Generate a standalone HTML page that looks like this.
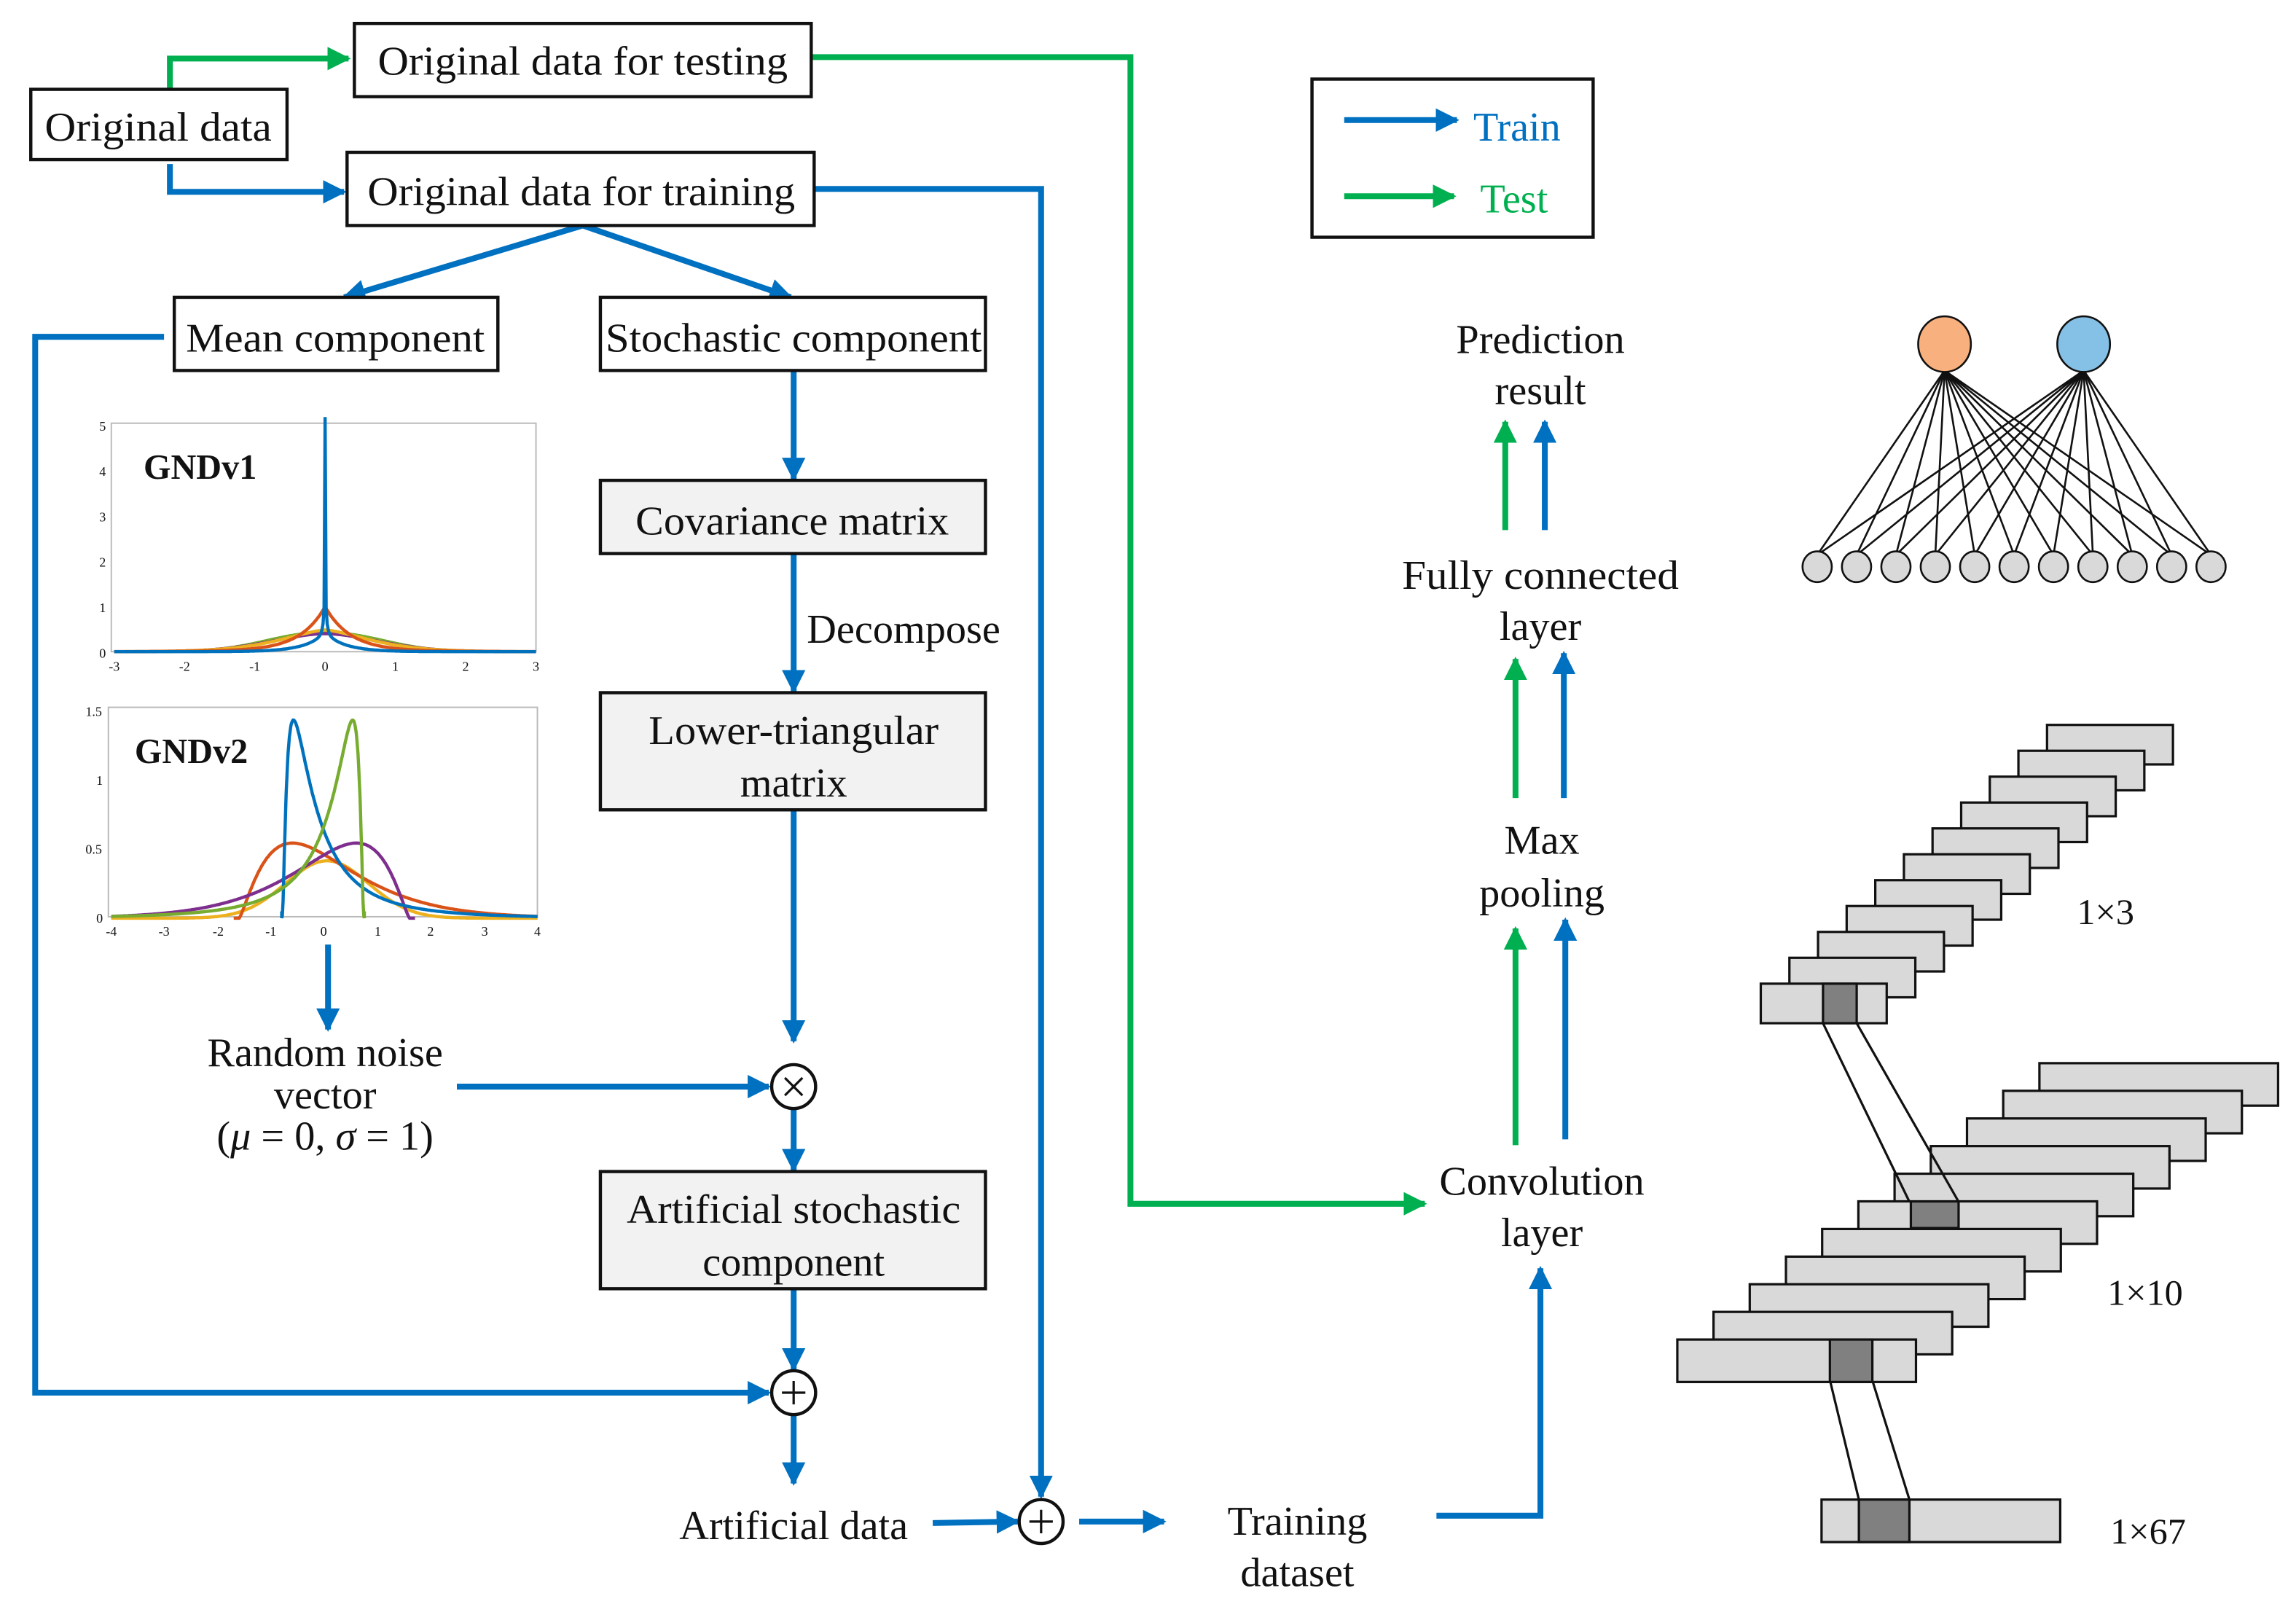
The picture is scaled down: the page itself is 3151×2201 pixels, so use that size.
<!DOCTYPE html>
<html><head><meta charset="utf-8"><style>
html,body{margin:0;padding:0;background:#fff;}
svg{display:block;}
text{font-family:"Liberation Serif",serif;fill:#111;}
</style></head><body>
<svg id="s" width="3151" height="2201" viewBox="0 0 1568 1095.3" xmlns="http://www.w3.org/2000/svg">
<defs>
<marker id="ab" viewBox="0 0 10 10" refX="9" refY="5" markerWidth="4" markerHeight="4" orient="auto" markerUnits="strokeWidth"><path d="M0,0 L10,5 L0,10 z" fill="#0070c0"/></marker>
<marker id="ag" viewBox="0 0 10 10" refX="9" refY="5" markerWidth="4" markerHeight="4" orient="auto" markerUnits="strokeWidth"><path d="M0,0 L10,5 L0,10 z" fill="#00b050"/></marker>
</defs>
<rect width="1568" height="1096" fill="#fff"/>
<g fill="none" stroke-width="4">
<polyline points="116,60 116,40 238,40" stroke="#00b050" marker-end="url(#ag)"/>
<polyline points="554,39 772,39 772,822 973,822" stroke="#00b050" marker-end="url(#ag)"/>
<line x1="918" y1="134" x2="993" y2="134" stroke="#00b050" marker-end="url(#ag)"/>
<line x1="1035" y1="782" x2="1035" y2="634" stroke="#00b050" marker-end="url(#ag)"/>
<line x1="1035" y1="545" x2="1035" y2="450" stroke="#00b050" marker-end="url(#ag)"/>
<line x1="1028" y1="362" x2="1028" y2="288" stroke="#00b050" marker-end="url(#ag)"/>
<polyline points="116,112 116,131 235,131" stroke="#0070c0" marker-end="url(#ab)"/>
<polyline points="556,129 711,129 711,1022" stroke="#0070c0" marker-end="url(#ab)"/>
<line x1="398" y1="154" x2="235" y2="203" stroke="#0070c0" marker-end="url(#ab)"/>
<line x1="398" y1="154" x2="540" y2="203" stroke="#0070c0" marker-end="url(#ab)"/>
<polyline points="112,230 24,230 24,951 525,951" stroke="#0070c0" marker-end="url(#ab)"/>
<line x1="542" y1="253" x2="542" y2="327" stroke="#0070c0" marker-end="url(#ab)"/>
<line x1="542" y1="378" x2="542" y2="472" stroke="#0070c0" marker-end="url(#ab)"/>
<line x1="542" y1="553" x2="542" y2="711" stroke="#0070c0" marker-end="url(#ab)"/>
<line x1="224" y1="645" x2="224" y2="703" stroke="#0070c0" marker-end="url(#ab)"/>
<line x1="312" y1="742" x2="525" y2="742" stroke="#0070c0" marker-end="url(#ab)"/>
<line x1="542" y1="757" x2="542" y2="799" stroke="#0070c0" marker-end="url(#ab)"/>
<line x1="542" y1="880" x2="542" y2="935" stroke="#0070c0" marker-end="url(#ab)"/>
<line x1="542" y1="966" x2="542" y2="1013" stroke="#0070c0" marker-end="url(#ab)"/>
<line x1="637" y1="1040" x2="695" y2="1039" stroke="#0070c0" marker-end="url(#ab)"/>
<line x1="737" y1="1039" x2="795" y2="1039" stroke="#0070c0" marker-end="url(#ab)"/>
<polyline points="981,1035 1052,1035 1052,866" stroke="#0070c0" marker-end="url(#ab)"/>
<line x1="1069" y1="778" x2="1069" y2="628" stroke="#0070c0" marker-end="url(#ab)"/>
<line x1="1068" y1="545" x2="1068" y2="446" stroke="#0070c0" marker-end="url(#ab)"/>
<line x1="1055" y1="362" x2="1055" y2="288" stroke="#0070c0" marker-end="url(#ab)"/>
<line x1="918" y1="82" x2="995" y2="82" stroke="#0070c0" marker-end="url(#ab)"/>
</g>
<g stroke="#111" stroke-width="2.2">
<rect x="21" y="61" width="175" height="48" fill="#fff"/>
<rect x="242" y="16" width="312" height="50" fill="#fff"/>
<rect x="237" y="104" width="319" height="50" fill="#fff"/>
<rect x="119" y="203" width="221" height="50" fill="#fff"/>
<rect x="410" y="203" width="263" height="50" fill="#fff"/>
<rect x="410" y="328" width="263" height="50" fill="#f2f2f2"/>
<rect x="410" y="473" width="263" height="80" fill="#f2f2f2"/>
<rect x="410" y="800" width="263" height="80" fill="#f2f2f2"/>
<rect x="896" y="54" width="192" height="108" fill="none"/>
<circle cx="542" cy="742" r="15" fill="#fff"/>
<circle cx="542" cy="951" r="15" fill="#fff"/>
<circle cx="711" cy="1039" r="15" fill="#fff"/>
</g>
<g stroke="#111" stroke-width="1.6">
<path d="M536,736 L548,748 M548,736 L536,748"/>
<path d="M542,943 V959 M534,951 H550"/>
<path d="M711,1031 V1047 M703,1039 H719"/>
</g>
<g font-size="28" text-anchor="middle">
<text x="108" y="96" textLength="155" lengthAdjust="spacingAndGlyphs">Original data</text>
<text x="398" y="51" textLength="280" lengthAdjust="spacingAndGlyphs">Original data for testing</text>
<text x="397" y="140" textLength="292" lengthAdjust="spacingAndGlyphs">Original data for training</text>
<text x="229" y="240" textLength="204" lengthAdjust="spacingAndGlyphs">Mean component</text>
<text x="542" y="240" textLength="257" lengthAdjust="spacingAndGlyphs">Stochastic component</text>
<text x="541" y="365" textLength="214" lengthAdjust="spacingAndGlyphs">Covariance matrix</text>
<text x="542" y="508" textLength="198" lengthAdjust="spacingAndGlyphs">Lower-triangular</text>
<text x="542" y="544">matrix</text>
<text x="542" y="835" textLength="228" lengthAdjust="spacingAndGlyphs">Artificial stochastic</text>
<text x="542" y="871">component</text>
<text x="222" y="728">Random noise</text>
<text x="222" y="757">vector</text>
<text x="222" y="785">(<tspan font-style="italic">μ</tspan> = 0, <tspan font-style="italic">σ</tspan> = 1)</text>
<text x="542" y="1051">Artificial data</text>
<text x="886" y="1048">Training</text>
<text x="886" y="1083">dataset</text>
<text x="1053" y="816">Convolution</text>
<text x="1053" y="851">layer</text>
<text x="1053" y="583">Max</text>
<text x="1053" y="619">pooling</text>
<text x="1052" y="402" textLength="189" lengthAdjust="spacingAndGlyphs">Fully connected</text>
<text x="1052" y="437">layer</text>
<text x="1052" y="241">Prediction</text>
<text x="1052" y="276">result</text>
<text x="1036" y="96" style="fill:#0070c0">Train</text>
<text x="1034" y="145" style="fill:#00b050">Test</text>
<text x="1438" y="631" font-size="25">1×3</text>
<text x="1465" y="891" font-size="25">1×10</text>
<text x="1467" y="1054" font-size="25">1×67</text>
</g>
<text x="551" y="439" font-size="28">Decompose</text>
<g stroke="#bbb" stroke-width="1" fill="none">
<rect x="76" y="289" width="290" height="156"/>
<rect x="74" y="483" width="293" height="143"/>
</g>
<g font-size="9" fill="#333" text-anchor="middle">
<text x="70" y="294">5</text><text x="70" y="325">4</text><text x="70" y="356">3</text><text x="70" y="387">2</text><text x="70" y="418">1</text><text x="70" y="449">0</text>
<text x="78" y="458">-3</text><text x="126" y="458">-2</text><text x="174" y="458">-1</text><text x="222" y="458">0</text><text x="270" y="458">1</text><text x="318" y="458">2</text><text x="366" y="458">3</text>
<text x="64" y="489">1.5</text><text x="68" y="536">1</text><text x="64" y="583">0.5</text><text x="68" y="630">0</text>
<text x="76" y="639">-4</text><text x="112" y="639">-3</text><text x="149" y="639">-2</text><text x="185" y="639">-1</text><text x="221" y="639">0</text><text x="258" y="639">1</text><text x="294" y="639">2</text><text x="331" y="639">3</text><text x="367" y="639">4</text>
</g>
<text x="98" y="327" font-size="24" font-weight="bold">GNDv1</text>
<text x="92" y="521" font-size="24" font-weight="bold">GNDv2</text>
<g id="curves" fill="none" stroke-width="2.2"></g>
<g id="nn" stroke="#111" stroke-width="1.3"></g>
<g id="conv" stroke="#111" stroke-width="1.6"></g>
</svg>
<script>
var NS="http://www.w3.org/2000/svg";
function el(p,t,a){var e=document.createElementNS(NS,t);for(var k in a)e.setAttribute(k,a[k]);p.appendChild(e);return e;}
var cg=document.getElementById('curves');
function plot(f,x0,x1,X,Y,col){var d="";for(var i=0;i<=400;i++){var v=x0+(x1-x0)*i/400;var p=f(v);d+=(i?"L":"M")+X(v).toFixed(1)+","+Y(p).toFixed(1);}el(cg,'path',{d:d,stroke:col});}
var X1=function(v){return 222+48*v},Y1=function(p){return 445-30.8*p};
plot(function(v){return 0.42*Math.exp(-Math.pow(Math.abs(v)/1.1,2.2))},-3,3,X1,Y1,'#77ac30');
plot(function(v){return 0.4*Math.exp(-Math.pow(Math.abs(v)/1.05,1.8))},-3,3,X1,Y1,'#7e2f8e');
plot(function(v){return 0.48*Math.exp(-Math.pow(Math.abs(v)/0.9,1.5))},-3,3,X1,Y1,'#edb120');
plot(function(v){return 0.95*Math.exp(-Math.abs(v)/0.35)+0.05*Math.exp(-Math.abs(v))},-3,3,X1,Y1,'#d95319');
plot(function(v){return 4.8*Math.exp(-Math.sqrt(Math.abs(v)/0.0035))+0.4*Math.exp(-Math.abs(v)/0.3)},-3,3,X1,Y1,'#0072bd');
var X2=function(v){return 221.5+36.4*v},Y2=function(p){return 627-93.3*p};
function ln(t,a,s){if(t<=0)return 0;var l=Math.log(t/0.2);return a*Math.exp(-l*l/(2*s*s));}
plot(function(v){return 0.42*Math.exp(-Math.pow(Math.abs(v-0.05)/1.1,2))},-4,4,X2,Y2,'#edb120');
plot(function(v){var t=v+1.6;if(t<=0)return 0;return 0.55*Math.pow(t,1.3)*Math.exp(-(t-1)*1.3);},-1.7,4,X2,Y2,'#d95319');
plot(function(v){var t=1.6-v;if(t<=0)return 0;return 0.55*Math.pow(t,1.3)*Math.exp(-(t-1)*1.3);},-4,1.7,X2,Y2,'#7e2f8e');
plot(function(v){var t=v+0.8;if(t<=0)return 0;var l=Math.log(t/0.22);return 1.45*Math.exp(-l*l/2);},-0.8,4,X2,Y2,'#0072bd');
plot(function(v){var t=0.75-v;if(t<=0)return 0;var l=Math.log(t/0.22);return 1.45*Math.exp(-l*l/2);},-4,0.75,X2,Y2,'#77ac30');
el(cg,'line',{x1:X2(-0.8),y1:627,x2:X2(-0.8),y2:Y2(0.05),stroke:'#0072bd'});
el(cg,'line',{x1:X2(0.75),y1:627,x2:X2(0.75),y2:Y2(0.05),stroke:'#77ac30'});
var nn=document.getElementById('nn');
var bx=[];for(var i=0;i<11;i++)bx.push(1241+i*26.9);
[1328,1423].forEach(function(tx){bx.forEach(function(x){el(nn,'line',{x1:tx,y1:253,x2:x,y2:379});});});
el(nn,'ellipse',{cx:1328,cy:235,rx:18,ry:19,fill:'#f9b07f'});
el(nn,'ellipse',{cx:1423,cy:235,rx:18,ry:19,fill:'#85c1e6'});
bx.forEach(function(x){el(nn,'ellipse',{cx:x,cy:387,rx:10,ry:10.5,fill:'#d9d9d9'});});
var cv=document.getElementById('conv');
for(var i=0;i<11;i++){el(cv,'rect',{x:1398-19.55*i,y:495+17.67*i,width:86,height:27,fill:'#d9d9d9'});}
el(cv,'rect',{x:1245,y:671.7,width:23,height:27,fill:'#808080'});
for(var i=0;i<11;i++){el(cv,'rect',{x:1392.8-24.73*i,y:726+18.87*i,width:163,height:29,fill:'#d9d9d9'});
 if(i==5)el(cv,'rect',{x:1305,y:820.4,width:32.6,height:18.2,fill:'#808080'});}
el(cv,'rect',{x:1249.7,y:914.7,width:29,height:29,fill:'#808080'});
el(cv,'line',{x1:1245,y1:698.7,x2:1304,y2:820.6});
el(cv,'line',{x1:1268,y1:698.7,x2:1337.6,y2:820.6});
el(cv,'rect',{x:1244,y:1024,width:163,height:29,fill:'#d9d9d9'});
el(cv,'rect',{x:1269.5,y:1024,width:34.5,height:29,fill:'#808080'});
el(cv,'line',{x1:1250,y1:943.6,x2:1269.5,y2:1024});
el(cv,'line',{x1:1279,y1:943.6,x2:1304,y2:1024});
</script>
</body></html>
